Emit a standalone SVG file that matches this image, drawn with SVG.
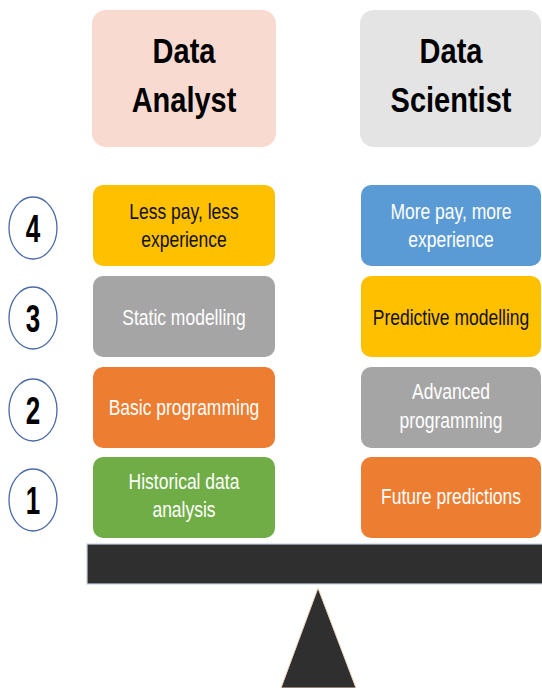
<svg xmlns="http://www.w3.org/2000/svg" width="542" height="688" viewBox="0 0 542 688">
<style>
.hd{font-family:"Liberation Sans",Arial,sans-serif;font-weight:bold;font-size:29px;fill:#000;text-anchor:middle}
.t{font-family:"Liberation Sans",Arial,sans-serif;font-size:17.5px;text-anchor:middle}
.w{fill:#fff}
.k{fill:#111}
.num{font-family:"Liberation Sans",Arial,sans-serif;font-weight:bold;font-size:26px;fill:#000;text-anchor:middle}
.c{fill:#fff;stroke:#4a6aa8;stroke-width:1.3}
</style>
<rect width="542" height="688" fill="#fff"/>
<g id="header-analyst"><rect x="92" y="10" width="184" height="137" rx="14" fill="#F8DAD0"/><text class="hd" transform="matrix(1,0,0,1.22,184,63)">Data</text><text class="hd" transform="matrix(1,0,0,1.22,184,112)">Analyst</text></g>
<g id="header-scientist"><rect x="360" y="10" width="181" height="137" rx="14" fill="#E4E4E4"/><text class="hd" transform="matrix(1,0,0,1.22,451,63)">Data</text><text class="hd" transform="matrix(1,0,0,1.22,451,112)">Scientist</text></g>

<g id="num4"><ellipse class="c" cx="33" cy="228" rx="24" ry="31"/><text class="num" transform="matrix(1,0,0,1.5,33,242)">4</text></g>
<g id="num3"><ellipse class="c" cx="33" cy="318" rx="24" ry="31"/><text class="num" transform="matrix(1,0,0,1.5,33,332)">3</text></g>
<g id="num2"><ellipse class="c" cx="33" cy="410" rx="24" ry="31"/><text class="num" transform="matrix(1,0,0,1.5,33,424)">2</text></g>
<g id="num1"><ellipse class="c" cx="33" cy="500" rx="24" ry="31"/><text class="num" transform="matrix(1,0,0,1.5,33,514)">1</text></g>

<g id="a4"><rect x="93" y="185" width="182" height="81" rx="10" fill="#FFC000"/><text class="t k" transform="matrix(1,0,0,1.25,184,219)">Less pay, less</text><text class="t k" transform="matrix(1,0,0,1.25,184,247)">experience</text></g>
<g id="a3"><rect x="93" y="276" width="182" height="81" rx="10" fill="#A5A5A5"/><text class="t w" transform="matrix(1,0,0,1.25,184,325)">Static modelling</text></g>
<g id="a2"><rect x="93" y="367" width="182" height="81" rx="10" fill="#ED7D31"/><text class="t w" transform="matrix(1,0,0,1.25,184,415)">Basic programming</text></g>
<g id="a1"><rect x="93" y="457" width="182" height="81" rx="10" fill="#70AD47"/><text class="t w" transform="matrix(1,0,0,1.25,184,489)">Historical data</text><text class="t w" transform="matrix(1,0,0,1.25,184,517)">analysis</text></g>

<g id="s4"><rect x="361" y="185" width="180" height="81" rx="10" fill="#5B9BD5"/><text class="t w" transform="matrix(1,0,0,1.25,451,219)">More pay, more</text><text class="t w" transform="matrix(1,0,0,1.25,451,247)">experience</text></g>
<g id="s3"><rect x="361" y="276" width="180" height="81" rx="10" fill="#FFC000"/><text class="t k" transform="matrix(1,0,0,1.25,451,325)">Predictive modelling</text></g>
<g id="s2"><rect x="361" y="367" width="180" height="81" rx="10" fill="#A5A5A5"/><text class="t w" transform="matrix(1,0,0,1.25,451,399)">Advanced</text><text class="t w" transform="matrix(1,0,0,1.25,451,428)">programming</text></g>
<g id="s1"><rect x="361" y="457" width="180" height="81" rx="10" fill="#ED7D31"/><text class="t w" transform="matrix(1,0,0,1.25,451,504)">Future predictions</text></g>

<g id="beam"><rect x="87" y="544" width="456" height="40" fill="#2F2F2F" stroke="#c8d4e0" stroke-width="1.2"/></g>
<g id="fulcrum"><polygon points="318,588 281,688 356,688" fill="#2F2F2F" stroke="#f0d8c0" stroke-width="1"/></g>
<g id="connectors"></g>
</svg>
